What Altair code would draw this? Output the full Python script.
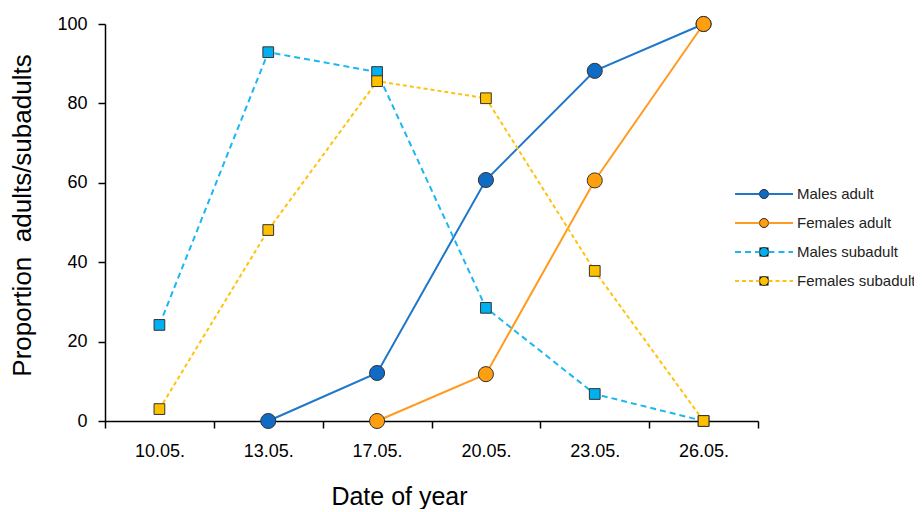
import altair as alt
import pandas as pd

dates = ["10.05.", "13.05.", "17.05.", "20.05.", "23.05.", "26.05."]
series_names = ["Males adult", "Females adult", "Males subadult", "Females subadult"]
males_adult = [None, 0, 12.1, 60.7, 88.2, 100]
females_adult = [None, None, 0, 11.8, 60.6, 100]
males_subadult = [24.2, 92.9, 87.9, 28.5, 6.8, 0]
females_subadult = [3.0, 48.1, 85.6, 81.3, 37.8, 0]

line_colors = ["#1F77C9", "#FF9B1F", "#1BB7F0", "#FFC20E"]
fill_colors = ["#0F6BC4", "#FF9E0F", "#00B0F0", "#FFC000"]
dash_males_sub = [6, 4]
dash_females_sub = [4, 3]
shape_range = ["circle", "circle", "square", "square"]

rows = []
for name, vals in zip(series_names, [males_adult, females_adult, males_subadult, females_subadult]):
    for d, v in zip(dates, vals):
        if v is not None:
            rows.append({"date": d, "series": name, "value": v,
                         "kind": "adult" if name.endswith(" adult") else "subadult"})
df = pd.DataFrame(rows)

FONT = "Liberation Sans"

x = alt.X("date:N", sort=dates,
          scale=alt.Scale(type="band", paddingInner=0, paddingOuter=0),
          axis=alt.Axis(title="Date of year", tickBand="extent", labelAngle=0,
                        labelFontSize=18, labelPadding=14, tickSize=7,
                        titleFontSize=25, titleFontWeight="normal",
                        titleX=294, titleY=75, titleBaseline="middle", titleAlign="center"))
y = alt.Y("value:Q", scale=alt.Scale(domain=[0, 100], nice=False, zero=True),
          axis=alt.Axis(title="Proportion\u00a0 adults/subadults", values=[0, 20, 40, 60, 80, 100],
                        grid=False, labelFontSize=18, labelPadding=11, tickSize=7,
                        titleFontSize=26, titleFontWeight="normal",
                        titleX=-83, titleY=191, titleBaseline="middle", titleAlign="center"))

LX, LY, ROW = 651.5, 162.5, 29
common_legend = dict(title=None, orient="none", legendX=LX, padding=0,
                     symbolSize=81, labelFontSize=15, labelFont=FONT, labelColor="#222222",
                     labelOffset=25.5, rowPadding=13)
LINE_PATH = "M-6.44,0H-1M1,0H6.44"


def line_layer(names, colors, field, row0, dash=None):
    legend_kw = dict(symbolType=LINE_PATH, symbolStrokeWidth=2, legendY=LY + row0 * ROW,
                     **common_legend)
    mark_kw = dict(strokeWidth=2)
    if dash:
        legend_kw["symbolDash"] = dash
        mark_kw["strokeDash"] = dash
    return alt.Chart(df).transform_filter(
        alt.FieldOneOfPredicate(field="series", oneOf=names)
    ).transform_calculate(**{field: "datum.series"}).mark_line(**mark_kw).encode(
        x=x, y=y,
        color=alt.Color(f"{field}:N", sort=names, scale=alt.Scale(range=colors),
                        legend=alt.Legend(**legend_kw)),
    )


point_legend = alt.Legend(labelOpacity=0, symbolStrokeColor="#333333", symbolStrokeWidth=1,
                          legendY=LY, **common_legend)


def pts(kind, size):
    return alt.Chart(df).transform_filter(alt.datum.kind == kind).mark_point(
        filled=True, size=size, stroke="#333333", strokeWidth=1, opacity=1
    ).encode(
        x=x, y=y,
        fill=alt.Fill("series:N", sort=series_names, scale=alt.Scale(range=fill_colors),
                      legend=point_legend),
        shape=alt.Shape("series:N", sort=series_names, scale=alt.Scale(range=shape_range),
                        legend=point_legend),
    )


chart = alt.layer(
    line_layer(series_names[:2], line_colors[:2], "line_adult", 0),
    line_layer(series_names[2:3], line_colors[2:3], "line_msub", 2, dash_males_sub),
    line_layer(series_names[3:4], line_colors[3:4], "line_fsub", 3, dash_females_sub),
    pts("adult", 227),
    pts("subadult", 115),
).resolve_scale(color="independent").properties(
    width=653, height=397,
    autosize=alt.AutoSizeParams(type="none"),
    padding={"left": 97, "top": 16, "right": 156, "bottom": 88},
).configure_view(stroke=None).configure_axis(
    domainColor="#000000", domainWidth=1.5, tickColor="#000000", tickWidth=1.5,
    labelColor="#000000", titleColor="#000000", labelFont=FONT, titleFont=FONT,
)

chart.save("out.html", embed_options={"renderer": "svg", "actions": False})
